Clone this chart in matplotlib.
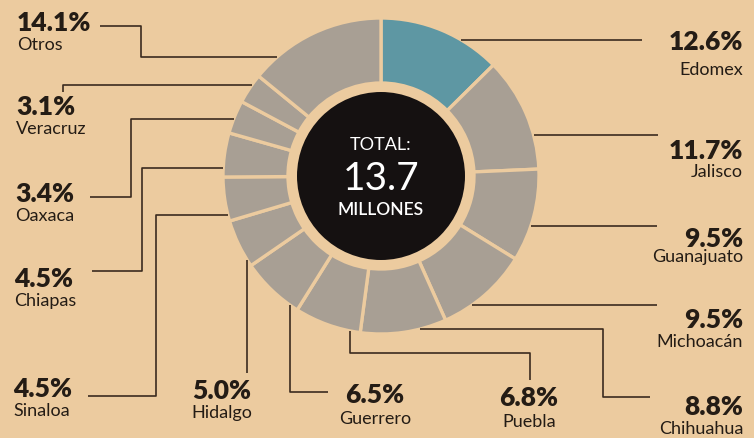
import matplotlib
matplotlib.use("Agg")
import matplotlib.pyplot as plt
import numpy as np
from matplotlib.patches import Circle

plt.rcParams['font.family'] = ['Lato', 'DejaVu Sans']

# ---- data ----
categories = ["Edomex", "Jalisco", "Guanajuato", "Michoacán", "Chihuahua", "Puebla",
              "Guerrero", "Hidalgo", "Sinaloa", "Chiapas", "Oaxaca", "Veracruz", "Otros"]
values = [12.6, 11.7, 9.5, 9.5, 8.8, 6.8, 6.5, 5.0, 4.5, 4.5, 3.4, 3.1, 14.1]
highlight = "Edomex"
total_label = "13.7"

# ---- style ----
BG = "#ECCB9F"
GREY = "#A89F94"
TEAL = "#5E97A3"
LINE = "#3B2B1F"
TXT = "#241C15"
W, H = 754, 439
CX, CY, R, RW = 381, 177, 158, 65   # pixel layout of ring (y measured from top)

def Y(y):
    return H - y

# label layout: (pct x, pct baseline, name baseline, ha, leader path in px, end mode)
layout = {
    "Edomex":     (743, 50, 75, "right", [(642, 41)], "h"),
    "Jalisco":    (743, 159, 177, "right", [(658, 136)], "h"),
    "Guanajuato": (743, 247, 262, "right", [(657, 227)], "h"),
    "Michoacán":  (743, 328, 347, "right", [(657, 306)], "h"),
    "Chihuahua":  (743, 415, 434, "right", [(650, 398), (603, 398), (603, 330)], "h"),
    "Puebla":     (529, 406, 427, "center", [(530, 381), (530, 354), (350, 354)], "v"),
    "Guerrero":   (375, 403, 424, "center", [(328, 393), (290, 393)], "v"),
    "Hidalgo":    (222, 399, 418, "center", [(247, 374)], "v"),
    "Sinaloa":    (13, 397, 416, "left", [(88, 397), (156, 397), (156, 216)], "h"),
    "Chiapas":    (14, 287, 306, "left", [(92, 272), (142, 272), (142, 169)], "h"),
    "Oaxaca":     (15, 202, 221, "left", [(90, 198), (131, 198), (131, 120)], "h"),
    "Veracruz":   (16, 115, 134, "left", [(63, 93), (63, 86)], "h"),
    "Otros":      (17, 31, 50, "left", [(100, 27), (141, 27), (141, 58)], "h"),
}

fig = plt.figure(figsize=(W / 100, H / 100), dpi=100, facecolor=BG)
ax = fig.add_axes([0, 0, 1, 1])
ax.set_facecolor(BG)

colors = [TEAL if c == highlight else GREY for c in categories]
ax.pie(values, startangle=90, counterclock=False, radius=R, center=(CX, Y(CY)),
       colors=colors, wedgeprops=dict(width=RW, edgecolor=BG, linewidth=2.4),
       normalize=True)
ax.add_patch(Circle((CX, Y(CY)), 84, facecolor="#151111", edgecolor="none", zorder=3))

ax.text(CX, Y(150), "TOTAL:", color="white", fontsize=13, ha="center", va="baseline", zorder=4)
ax.text(CX, Y(190), total_label, color="white", fontsize=28, ha="center", va="baseline", zorder=4)
ax.text(CX, Y(215), "MILLONES", color="white", fontsize=12.5, ha="center", va="baseline",
        fontweight="semibold", zorder=4)

# leader lines and labels
for cat, val in zip(categories, values):
    px, pb, nb, ha, path, mode = layout[cat]
    pts = list(path)
    lx, ly = pts[-1]
    if mode == "h":
        dx = np.sqrt(max(R**2 - (ly - CY)**2, 0))
        ex = CX + dx if lx > CX else CX - dx
        pts.append((ex, ly))
    else:
        dy = np.sqrt(max(R**2 - (lx - CX)**2, 0))
        pts.append((lx, CY + dy))
    xs = [p[0] for p in pts]
    ys = [Y(p[1]) for p in pts]
    ax.plot(xs, ys, color=LINE, lw=1.2, zorder=1, solid_capstyle="butt")
    ax.text(px, Y(pb), f"{val:.1f}%", color=TXT, fontsize=19, fontweight="heavy",
            ha=ha, va="baseline")
    ax.text(px, Y(nb), cat, color=TXT, fontsize=13, ha=ha, va="baseline")

ax.set_xlim(0, W)
ax.set_ylim(0, H)
ax.set_aspect("auto")
ax.axis("off")

fig.savefig("out.png", dpi=100, facecolor=BG)
